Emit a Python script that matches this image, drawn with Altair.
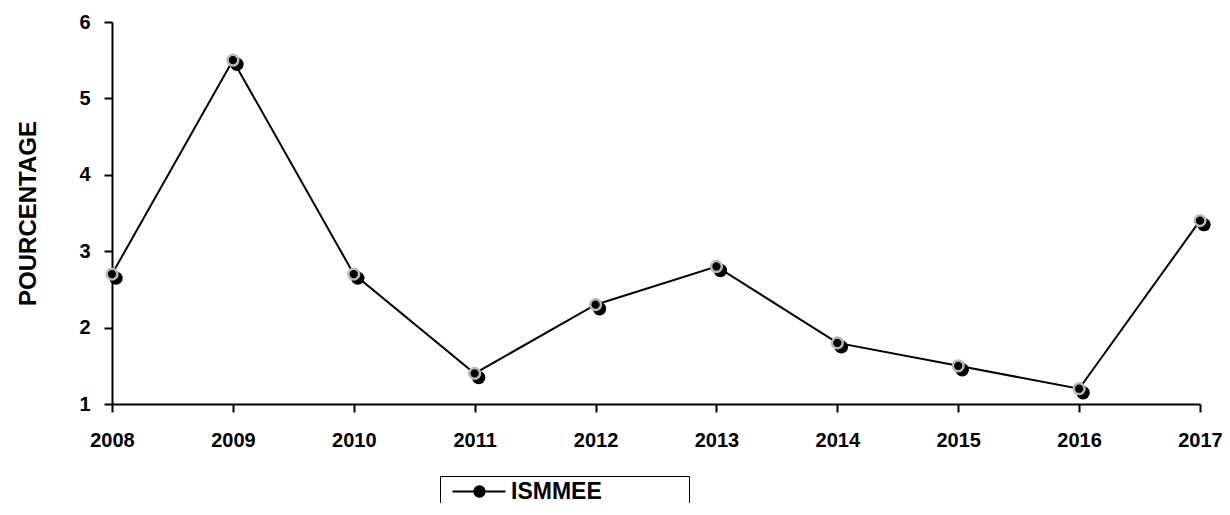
import altair as alt
import pandas as pd

years = [2008, 2009, 2010, 2011, 2012, 2013, 2014, 2015, 2016, 2017]
values = [2.7, 5.5, 2.7, 1.4, 2.3, 2.8, 1.8, 1.5, 1.2, 3.4]
series = ["ISMMEE"] * len(years)
y_ticks = [1, 2, 3, 4, 5, 6]

df = pd.DataFrame({"year": years, "value": values, "series": series})

FONT = "Liberation Sans"

x = alt.X("year:Q", scale=alt.Scale(domain=[2008, 2017], nice=False, zero=False),
          axis=alt.Axis(values=years, format="d", title=None, grid=False,
                        labelFontSize=20, labelFontWeight="bold", labelFont=FONT,
                        labelColor="black", labelPadding=18,
                        domainColor="black", domainWidth=2, tickColor="black",
                        tickWidth=2, tickSize=8, labelFlush=False))
y = alt.Y("value:Q", scale=alt.Scale(domain=[1, 6], nice=False, zero=False),
          axis=alt.Axis(values=y_ticks, title="POURCENTAGE", grid=False,
                        labelFontSize=20, labelFontWeight="bold", labelFont=FONT,
                        labelColor="black", labelPadding=14,
                        domainColor="black", domainWidth=2, tickColor="black",
                        tickWidth=2, tickSize=8,
                        titleFont=FONT, titleFontSize=24, titleFontWeight="bold",
                        titleColor="black", titleAngle=-90, titleX=-84, titleY=191,
                        titleAlign="center", titleBaseline="middle"))

# legend glyph: a line with a dot (dot drawn with cubic curves)
legend_symbol = ("M-5.625,0L1,0"
                 "M-2.9,0C-2.9,-0.359 -2.609,-0.65 -2.25,-0.65"
                 "C-1.891,-0.65 -1.6,-0.359 -1.6,0"
                 "C-1.6,0.359 -1.891,0.65 -2.25,0.65"
                 "C-2.609,0.65 -2.9,0.359 -2.9,0Z")

line = alt.Chart(df).mark_line(strokeWidth=2).encode(
    x=x, y=y,
    color=alt.Color("series:N", scale=alt.Scale(range=["black"]),
                    legend=alt.Legend(
                        orient="none", legendX=328, legendY=454,
                        title="\u00a0", titleOrient="right", titlePadding=83,
                        titleFontSize=20,
                        strokeColor="black", fillColor="white", padding=4,
                        symbolType=legend_symbol, symbolOffset=42,
                        symbolSize=256, symbolStrokeWidth=2,
                        symbolStrokeColor="black", symbolFillColor="black",
                        labelFont=FONT, labelFontSize=23, labelFontWeight="bold",
                        labelColor="black", labelOffset=2)),
)

shadow = alt.Chart(df).mark_circle(color="black", opacity=1, size=180,
                                   xOffset=4, yOffset=4).encode(x=x, y=y)
marker = alt.Chart(df).mark_circle(fill="black", stroke="#b8b8b8", strokeWidth=2.5,
                                   opacity=1, size=115).encode(x=x, y=y)

chart = alt.layer(line, shadow, marker).properties(
    width=1088, height=382,
    autosize=alt.AutoSizeParams(type="none"),
    padding={"left": 104, "top": 14, "right": 22, "bottom": 99},
).configure(background="white").configure_view(stroke="transparent")

chart.save("out.html", embed_options={"renderer": "svg", "actions": False})
